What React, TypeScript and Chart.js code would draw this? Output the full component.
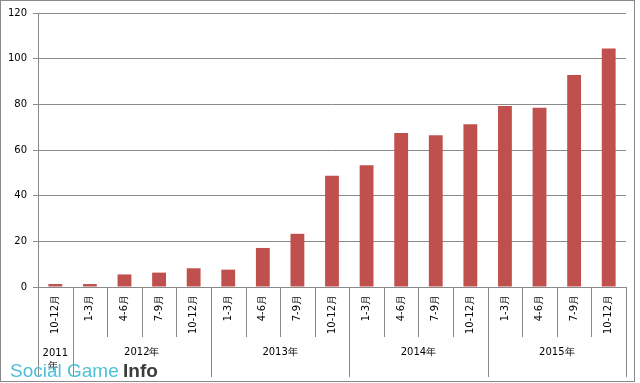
import React, { useEffect, useRef } from "react";
import { Chart, registerables } from "chart.js";

Chart.register(...registerables);

const monthLabels = [
  "10-12月",
  "1-3月", "4-6月", "7-9月", "10-12月",
  "1-3月", "4-6月", "7-9月", "10-12月",
  "1-3月", "4-6月", "7-9月", "10-12月",
  "1-3月", "4-6月", "7-9月", "10-12月",
];
const yearLabels = ["2011年", "2012年", "2013年", "2014年", "2015年"];
const yearSizes = [1, 4, 4, 4, 4];
const values = [1.3, 1.3, 5.5, 6.3, 8.2, 7.6, 17.1, 23.3, 48.7, 53.3, 67.4, 66.5, 71.3, 79.3, 78.5, 92.9, 104.4];
const yTicks = [0, 20, 40, 60, 80, 100, 120];

const GRAY = "#8a8a8a";
const FONT = "DejaVu Sans";

const decorPlugin = {
  id: "decor",
  beforeDraw(chart: any) {
    const { ctx, width, height } = chart;
    ctx.save();
    ctx.fillStyle = "#ffffff";
    ctx.fillRect(0, 0, width, height);
    ctx.restore();
  },
  afterDraw(chart: any) {
    const { ctx } = chart;
    const xs = chart.scales.x;
    const area = chart.chartArea;
    const n = monthLabels.length;
    const half = (xs.getPixelForValue(1) - xs.getPixelForValue(0)) / 2;
    const boundary = (i: number) =>
      i < n ? xs.getPixelForValue(i) - half : xs.getPixelForValue(n - 1) + half;
    const groupStarts = new Set<number>();
    let acc = 0;
    groupStarts.add(0);
    yearSizes.forEach((s) => {
      acc += s;
      groupStarts.add(acc);
    });
    ctx.save();
    ctx.strokeStyle = GRAY;
    ctx.lineWidth = 1;
    for (let i = 0; i <= n; i++) {
      const x = Math.round(boundary(i)) + 0.5;
      const yEnd = groupStarts.has(i) ? 377 : 337;
      ctx.beginPath();
      ctx.moveTo(x, area.bottom);
      ctx.lineTo(x, yEnd);
      ctx.stroke();
    }
    // year group labels
    ctx.fillStyle = "#000000";
    ctx.font = `10px "${FONT}"`;
    ctx.textAlign = "center";
    ctx.textBaseline = "middle";
    let start = 0;
    yearLabels.forEach((lab, gi) => {
      const end = start + yearSizes[gi];
      const x0 = boundary(start);
      const x1 = boundary(end);
      const cx = (x0 + x1) / 2;
      const w = ctx.measureText(lab).width;
      if (w > x1 - x0 - 4) {
        ctx.fillText(lab.slice(0, -1), cx, 353);
        ctx.fillText(lab.slice(-1), cx - 2, 366);
      } else {
        ctx.fillText(lab, cx, 352);
      }
      start = end;
    });
    // outer frame
    ctx.strokeStyle = GRAY;
    ctx.strokeRect(0.5, 0.5, 634, 381);
    // watermark
    ctx.textAlign = "left";
    ctx.textBaseline = "alphabetic";
    ctx.font = `19px "Liberation Sans"`;
    ctx.fillStyle = "#4fc0d8";
    const t1 = "Social Game";
    ctx.fillText(t1, 10, 377);
    const w1 = ctx.measureText(t1 + " ").width;
    ctx.font = `bold 19px "Liberation Sans"`;
    ctx.fillStyle = "#3c3c3c";
    ctx.fillText("Info", 10 + w1 - 1, 377);
    ctx.restore();
  },
};

export default function App() {
  const ref = useRef<HTMLCanvasElement>(null);
  useEffect(() => {
    document.body.style.margin = "0";
    const canvas = ref.current;
    if (!canvas) return;
    const chart = new Chart(canvas, {
      type: "bar",
      data: {
        labels: monthLabels,
        datasets: [
          {
            data: values,
            backgroundColor: "#c0504d",
            borderWidth: 0,
            categoryPercentage: 1,
            barPercentage: 0.4,
          },
        ],
      },
      options: {
        responsive: false,
        animation: false,
        devicePixelRatio: 1,
        layout: { padding: { left: 0, top: 13, right: 14, bottom: 0 } },
        plugins: { legend: { display: false }, tooltip: { enabled: false } },
        scales: {
          x: {
            type: "category",
            offset: true,
            grid: { display: false, drawTicks: false },
            border: { display: true, color: GRAY },
            ticks: {
              minRotation: 90,
              maxRotation: 90,
              autoSkip: false,
              padding: 8,
              color: "#000000",
              font: { family: FONT, size: 10 },
            },
            afterFit: (s: any) => {
              s.height = 96;
            },
          },
          y: {
            min: 0,
            max: 120,
            afterBuildTicks: (s: any) => {
              s.ticks = yTicks.map((v) => ({ value: v }));
            },
            grid: { color: GRAY, tickLength: 5, drawTicks: true },
            border: { display: true, color: GRAY },
            ticks: {
              padding: 6,
              color: "#000000",
              font: { family: FONT, size: 10 },
            },
            afterFit: (s: any) => {
              s.width = 38;
            },
          },
        },
      },
      plugins: [decorPlugin],
    });
    return () => chart.destroy();
  }, []);
  return (
    <div style={{ position: "absolute", left: 0, top: 0, width: 640, height: 383 }}>
      <canvas ref={ref} width={640} height={383} style={{ display: "block" }} />
    </div>
  );
}
